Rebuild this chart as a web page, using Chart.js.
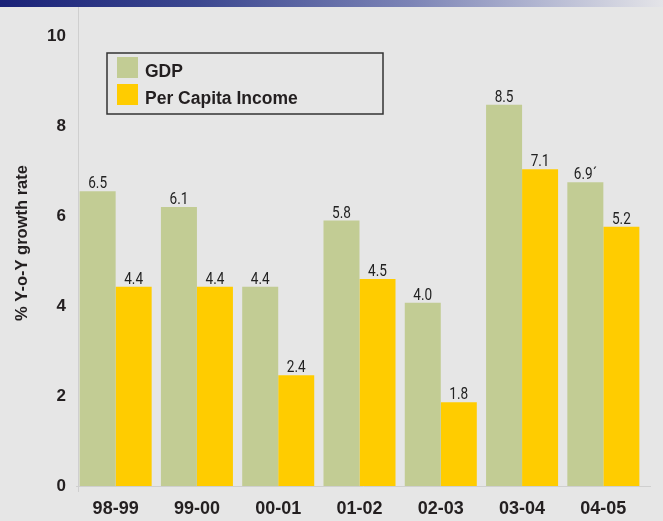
<!DOCTYPE html>
<html><head><meta charset="utf-8">
<script src="https://cdn.jsdelivr.net/npm/chart.js@4/dist/chart.umd.min.js"></script>
<style>
html,body{margin:0;padding:0;background:#e6e6e6;}
#wrap{position:relative;width:663px;height:521px;overflow:hidden;}
#strip{position:absolute;left:0;top:0;width:663px;height:7px;background:linear-gradient(to right,#1a2278 0%,#3c4890 30%,#7c84b6 62%,#b4b8d2 82%,#e4e4e8 100%);}
canvas{position:absolute;left:0;top:0;}
</style></head><body>
<div id="wrap"><canvas id="c" width="663" height="521"></canvas><div id="strip"></div></div>
<script>
const categories = ['98-99','99-00','00-01','01-02','02-03','03-04','04-05'];
const gdpValues = [6.55, 6.2, 4.43, 5.9, 4.07, 8.47, 6.75];
const pciValues = [4.43, 4.43, 2.46, 4.6, 1.86, 7.04, 5.76];
const gdpLabels = ['6.5','6.1','4.4','5.8','4.0','8.5','6.9´'];
const pciLabels = ['4.4','4.4','2.4','4.5','1.8','7.1','5.2'];
const seriesNames = ['GDP','Per Capita Income'];
const yTicks = [0, 2, 4, 6, 8, 10];
const yTitle = '% Y-o-Y growth rate';

const GREEN = '#c2cc94';
const YELLOW = '#ffcc00';
const TEXT = '#231f20';
const BOLD = "'Liberation Sans', Arial, sans-serif";

const decorPlugin = {
  id: 'decor',
  beforeDatasetsDraw(chart) {
    const ctx = chart.ctx, a = chart.chartArea;
    ctx.save();
    ctx.strokeStyle = '#cfcfcf';
    ctx.lineWidth = 1;
    ctx.beginPath();
    ctx.moveTo(a.left + 3.5, 0);
    ctx.lineTo(a.left + 3.5, a.bottom + 6);
    ctx.moveTo(a.left + 1, a.bottom + 0.5);
    ctx.lineTo(a.right + 7, a.bottom + 0.5);
    ctx.stroke();
    // y title
    ctx.fillStyle = TEXT;
    ctx.font = "bold 16.5px " + BOLD;
    ctx.textAlign = 'center';
    ctx.textBaseline = 'middle';
    ctx.translate(22, 243);
    ctx.rotate(-Math.PI / 2);
    ctx.fillText(yTitle, 0, 0);
    ctx.restore();
  },
  afterDatasetsDraw(chart) {
    const ctx = chart.ctx;
    ctx.save();
    ctx.font = "400 16px Roboto, 'Liberation Sans', sans-serif";
    ctx.fillStyle = '#222';
    ctx.textAlign = 'center';
    ctx.textBaseline = 'alphabetic';
    const labelSets = [gdpLabels, pciLabels];
    chart.data.datasets.forEach((ds, di) => {
      const meta = chart.getDatasetMeta(di);
      meta.data.forEach((bar, i) => {
        ctx.save();
        ctx.translate(bar.x, bar.y - 3);
        ctx.scale(0.85, 1);
        ctx.fillText(labelSets[di][i], 0, 0);
        ctx.restore();
      });
    });
    // legend box
    const lx = 107, ly = 53, lw = 276, lh = 61;
    ctx.strokeStyle = '#333';
    ctx.lineWidth = 1.5;
    ctx.strokeRect(lx, ly, lw, lh);
    ctx.textAlign = 'left';
    ctx.textBaseline = 'middle';
    ctx.font = "bold 17.5px " + BOLD;
    chart.data.datasets.forEach((ds, di) => {
      const sy = ly + 4 + di * 27;
      ctx.fillStyle = ds.backgroundColor;
      ctx.fillRect(lx + 10, sy, 21, 21);
      ctx.fillStyle = TEXT;
      ctx.fillText(ds.label, lx + 38, sy + 15);
    });
    ctx.restore();
  }
};

new Chart(document.getElementById('c'), {
  type: 'bar',
  data: {
    labels: categories,
    datasets: [
      { label: seriesNames[0], data: gdpValues, backgroundColor: GREEN, borderWidth: 0 },
      { label: seriesNames[1], data: pciValues, backgroundColor: YELLOW, borderWidth: 0 }
    ]
  },
  options: {
    responsive: false,
    animation: false,
    devicePixelRatio: 1,
    layout: { padding: { top: 36, right: 19, left: 0, bottom: 0 } },
    datasets: { bar: { categoryPercentage: 0.886, barPercentage: 1.0 } },
    plugins: { legend: { display: false }, tooltip: { enabled: false } },
    scales: {
      x: {
        grid: { display: false, drawTicks: false },
        border: { display: false },
        ticks: { padding: 12, color: TEXT, font: { family: BOLD, size: 18, weight: 'bold' } },
        afterFit(s) { s.height = 35; }
      },
      y: {
        min: 0, max: 10,
        grid: { display: false, drawTicks: false },
        border: { display: false },
        afterBuildTicks(s) { s.ticks = yTicks.map(v => ({ value: v })); },
        ticks: { padding: 9, color: TEXT, font: { family: BOLD, size: 17, weight: 'bold' } },
        afterFit(s) { s.width = 75; }
      }
    }
  },
  plugins: [decorPlugin]
});
</script>
</body></html>
